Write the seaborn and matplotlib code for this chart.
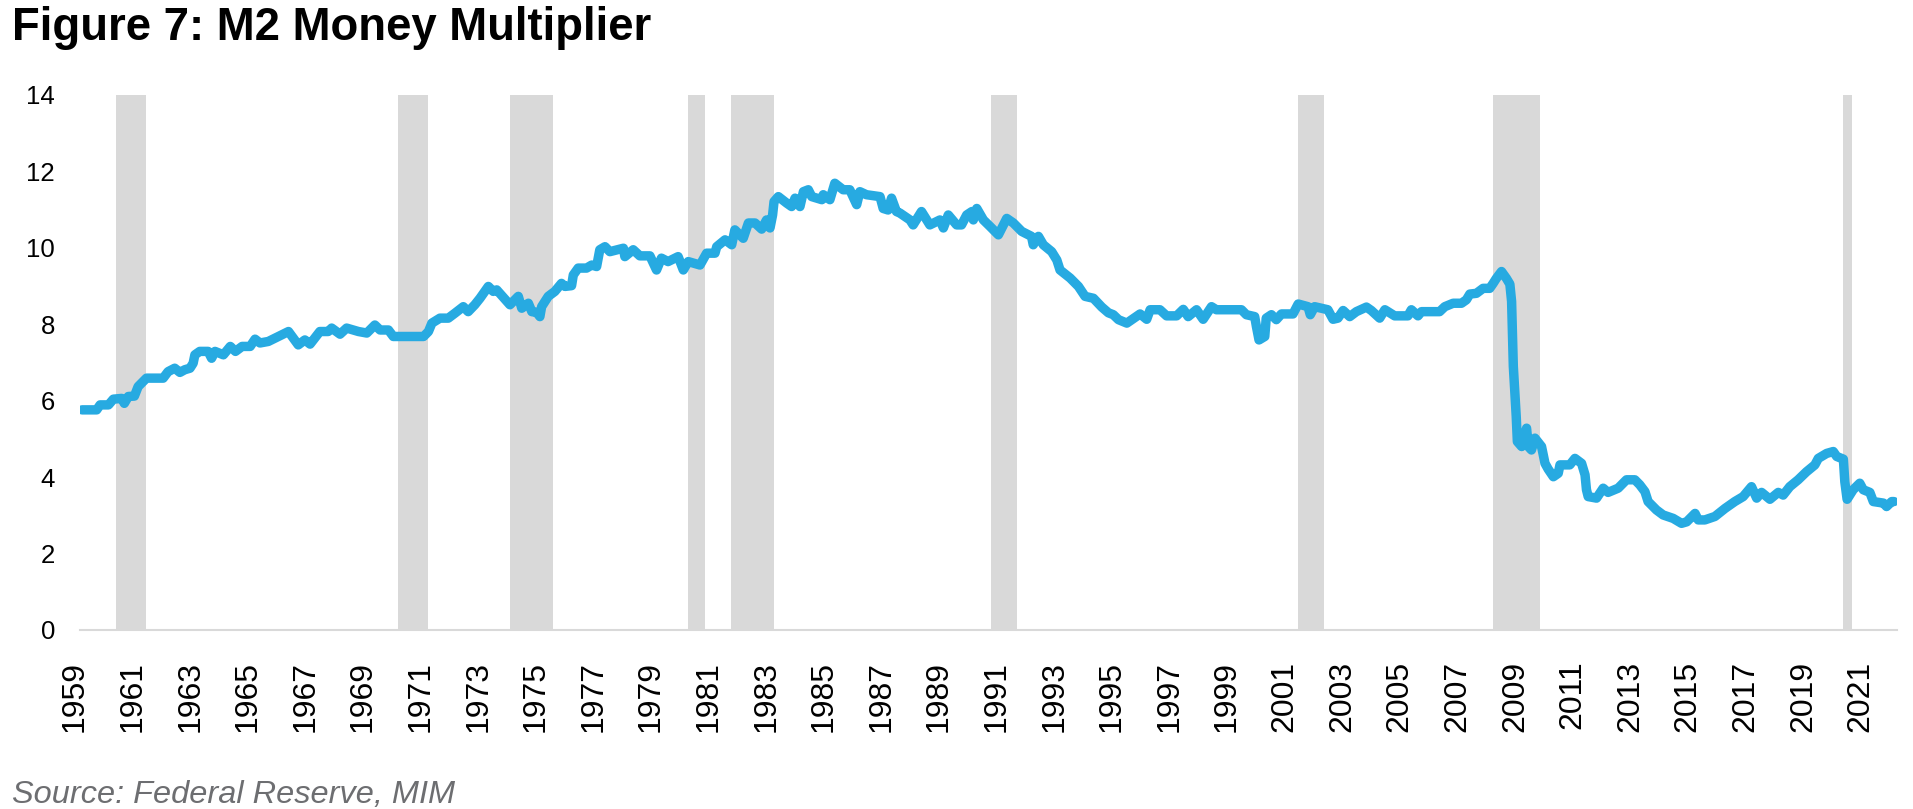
import matplotlib
matplotlib.use('Agg')
import matplotlib.pyplot as plt
import matplotlib.transforms as mtransforms
import seaborn as sns
import pandas as pd

# M2 money multiplier (decimal years)
years = [1959.00, 1959.51, 1959.63, 1959.92, 1960.09, 1960.38, 1960.47, 1960.61, 1960.82, 1960.95,
         1961.07, 1961.24, 1961.82, 1961.99, 1962.22, 1962.40, 1962.57, 1962.75, 1962.86, 1962.92,
         1963.09, 1963.38, 1963.50, 1963.62, 1963.91, 1964.15, 1964.33, 1964.56, 1964.84, 1965.01,
         1965.18, 1965.47, 1965.82, 1966.17, 1966.51, 1966.74, 1966.92, 1967.26, 1967.55, 1967.67,
         1967.96, 1968.19, 1968.60, 1968.89, 1969.17, 1969.35, 1969.64, 1969.81, 1970.33, 1970.86,
         1971.03, 1971.15, 1971.43, 1971.72, 1971.95, 1972.24, 1972.41, 1972.64, 1972.82, 1973.11,
         1973.28, 1973.40, 1973.86, 1974.15, 1974.27, 1974.50, 1974.62, 1974.79, 1974.90, 1974.96,
         1975.19, 1975.42, 1975.65, 1975.77, 1976.00, 1976.06, 1976.23, 1976.52, 1976.70, 1976.87,
         1976.98, 1977.16, 1977.33, 1977.80, 1977.85, 1978.14, 1978.37, 1978.72, 1978.95, 1979.12,
         1979.35, 1979.70, 1979.88, 1980.05, 1980.46, 1980.69, 1980.98, 1981.04, 1981.33, 1981.56,
         1981.67, 1981.96, 1982.14, 1982.37, 1982.60, 1982.77, 1982.89, 1982.98, 1983.03, 1983.18,
         1983.47, 1983.64, 1983.76, 1983.93, 1984.05, 1984.22, 1984.34, 1984.69, 1984.74, 1984.97,
         1985.14, 1985.43, 1985.66, 1985.90, 1986.01, 1986.24, 1986.71, 1986.82, 1986.99, 1987.11,
         1987.28, 1987.40, 1987.75, 1987.86, 1988.15, 1988.44, 1988.79, 1988.91, 1989.08, 1989.37,
         1989.54, 1989.72, 1989.90, 1989.95, 1990.07, 1990.30, 1990.53, 1990.82, 1991.11, 1991.34,
         1991.63, 1991.97, 1992.03, 1992.21, 1992.38, 1992.67, 1992.85, 1992.96, 1993.31, 1993.60,
         1993.83, 1994.12, 1994.41, 1994.64, 1994.81, 1994.99, 1995.28, 1995.45, 1995.74, 1995.97,
         1996.09, 1996.43, 1996.66, 1997.01, 1997.24, 1997.41, 1997.70, 1997.93, 1998.22, 1998.39,
         1999.26, 1999.43, 1999.72, 1999.78, 1999.87, 2000.07, 2000.12, 2000.30, 2000.47, 2000.65,
         2001.05, 2001.23, 2001.57, 2001.65, 2001.80, 2002.26, 2002.44, 2002.61, 2002.79, 2003.02,
         2003.25, 2003.60, 2003.77, 2004.06, 2004.24, 2004.58, 2005.04, 2005.16, 2005.39, 2005.51,
         2006.14, 2006.32, 2006.61, 2006.90, 2007.07, 2007.19, 2007.42, 2007.65, 2007.88, 2008.00,
         2008.11, 2008.29, 2008.46, 2008.58, 2008.64, 2008.70, 2008.80, 2008.84, 2008.99, 2009.16,
         2009.22, 2009.33, 2009.45, 2009.68, 2009.80, 2009.91, 2010.09, 2010.26, 2010.32, 2010.66,
         2010.84, 2011.07, 2011.19, 2011.24, 2011.30, 2011.59, 2011.82, 2011.99, 2012.34, 2012.63,
         2012.92, 2013.09, 2013.27, 2013.38, 2013.67, 2013.90, 2014.25, 2014.54, 2014.72, 2015.01,
         2015.12, 2015.35, 2015.70, 2016.05, 2016.39, 2016.68, 2016.97, 2017.15, 2017.32, 2017.61,
         2017.90, 2018.07, 2018.30, 2018.59, 2018.88, 2019.17, 2019.29, 2019.58, 2019.81, 2019.93,
         2020.16, 2020.21, 2020.29, 2020.50, 2020.73, 2020.85, 2021.08, 2021.20, 2021.55, 2021.66,
         2021.84, 2021.92]
mult = [5.76, 5.76, 5.89, 5.89, 6.04, 6.06, 5.93, 6.11, 6.12, 6.37,
        6.46, 6.59, 6.59, 6.76, 6.85, 6.74, 6.81, 6.85, 6.98, 7.20,
        7.29, 7.29, 7.11, 7.29, 7.20, 7.42, 7.29, 7.42, 7.42, 7.61,
        7.51, 7.55, 7.68, 7.81, 7.46, 7.59, 7.48, 7.81, 7.81, 7.90,
        7.74, 7.90, 7.81, 7.77, 7.98, 7.85, 7.85, 7.68, 7.68, 7.68,
        7.81, 8.03, 8.16, 8.16, 8.29, 8.46, 8.33, 8.51, 8.68, 8.99,
        8.86, 8.90, 8.51, 8.73, 8.42, 8.55, 8.33, 8.31, 8.20, 8.46,
        8.73, 8.86, 9.07, 8.99, 9.01, 9.29, 9.47, 9.47, 9.55, 9.51,
        9.95, 10.03, 9.90, 9.99, 9.77, 9.95, 9.79, 9.79, 9.42, 9.73,
        9.64, 9.77, 9.42, 9.64, 9.55, 9.86, 9.86, 10.03, 10.21, 10.08,
        10.47, 10.25, 10.65, 10.65, 10.49, 10.73, 10.52, 10.86, 11.21, 11.34,
        11.17, 11.08, 11.30, 11.08, 11.47, 11.52, 11.34, 11.26, 11.39, 11.26,
        11.69, 11.52, 11.52, 11.13, 11.47, 11.39, 11.34, 11.03, 10.99, 11.30,
        10.95, 10.91, 10.73, 10.60, 10.95, 10.60, 10.73, 10.52, 10.86, 10.60,
        10.60, 10.86, 10.95, 10.73, 11.03, 10.73, 10.56, 10.34, 10.77, 10.65,
        10.43, 10.30, 10.08, 10.30, 10.08, 9.90, 9.68, 9.42, 9.21, 8.99,
        8.73, 8.68, 8.45, 8.30, 8.25, 8.12, 8.03, 8.12, 8.27, 8.13,
        8.38, 8.38, 8.22, 8.22, 8.39, 8.20, 8.38, 8.13, 8.46, 8.38,
        8.38, 8.25, 8.20, 7.94, 7.59, 7.68, 8.16, 8.25, 8.12, 8.27,
        8.27, 8.53, 8.46, 8.25, 8.46, 8.38, 8.13, 8.16, 8.36, 8.20,
        8.33, 8.45, 8.36, 8.16, 8.38, 8.22, 8.22, 8.38, 8.22, 8.33,
        8.33, 8.46, 8.55, 8.55, 8.64, 8.79, 8.81, 8.94, 8.94, 9.07,
        9.20, 9.38, 9.20, 9.05, 8.60, 6.90, 5.60, 4.93, 4.80, 5.28,
        4.80, 4.71, 5.02, 4.80, 4.36, 4.21, 4.01, 4.10, 4.32, 4.32,
        4.49, 4.36, 4.06, 3.67, 3.49, 3.45, 3.71, 3.60, 3.71, 3.93,
        3.93, 3.80, 3.62, 3.36, 3.14, 3.01, 2.92, 2.79, 2.83, 3.05,
        2.88, 2.88, 2.97, 3.18, 3.36, 3.49, 3.75, 3.45, 3.60, 3.42,
        3.60, 3.53, 3.75, 3.93, 4.14, 4.32, 4.49, 4.62, 4.67, 4.54,
        4.47, 3.88, 3.42, 3.67, 3.84, 3.67, 3.60, 3.36, 3.32, 3.23,
        3.36, 3.36]

# recession shading (start, end) in decimal years
rec_start = [1960.19, 1969.96, 1973.86, 1980.03, 1981.53, 1990.55, 2001.23, 2007.98, 2020.16]
rec_end = [1961.23, 1971.00, 1975.36, 1980.63, 1983.03, 1991.45, 2002.13, 2009.61, 2020.45]

tick_years = list(range(1959, 2022, 2))

sns.set_theme(style='white')
plt.rcParams['font.family'] = ['Liberation Sans', 'DejaVu Sans']

fig = plt.figure(figsize=(19.13, 8.09), dpi=100)
ax = fig.add_axes([0.0418, 0.2213, 0.9498, 0.6613])

for s, e in zip(rec_start, rec_end):
    ax.axvspan(s, e, color='#d9d9d9', lw=0, zorder=1)

df = pd.DataFrame({'year': years, 'mult': mult})
sns.lineplot(data=df, x='year', y='mult', ax=ax, estimator=None, color='#27aae1',
             linewidth=6.8, solid_capstyle='round', solid_joinstyle='round', zorder=3)

ax.set_xlim(1958.93, 2022.02)
ax.set_ylim(0, 14)
ax.set_yticks(range(0, 15, 2))
ax.set_xticks(tick_years)
ax.set_xticklabels([str(y) for y in tick_years], rotation=90)
ax.set_xlabel('')
ax.set_ylabel('')
ax.tick_params(axis='x', length=0, labelsize=23, pad=22, colors='black')
ax.tick_params(axis='y', length=0, labelsize=18.5, pad=18, colors='black')

for side in ['left', 'top', 'right']:
    ax.spines[side].set_visible(False)
ax.spines['bottom'].set_color('#d9d9d9')
ax.spines['bottom'].set_linewidth(1.5)

# nudge the year labels a little left, like the original
offset = mtransforms.ScaledTranslation(-7 / 100, 0, fig.dpi_scale_trans)
for lab in ax.get_xticklabels():
    lab.set_transform(lab.get_transform() + offset)

fig.text(12 / 1913, (809 - 40) / 809, 'Figure 7: M2 Money Multiplier', fontsize=32.8,
         fontweight='bold', color='black', ha='left', va='baseline')
fig.text(12 / 1913, (809 - 803) / 809, 'Source: Federal Reserve, MIM', fontsize=23.4,
         style='italic', color='#6d6e71', ha='left', va='baseline')

fig.savefig('out.png', dpi=100)
